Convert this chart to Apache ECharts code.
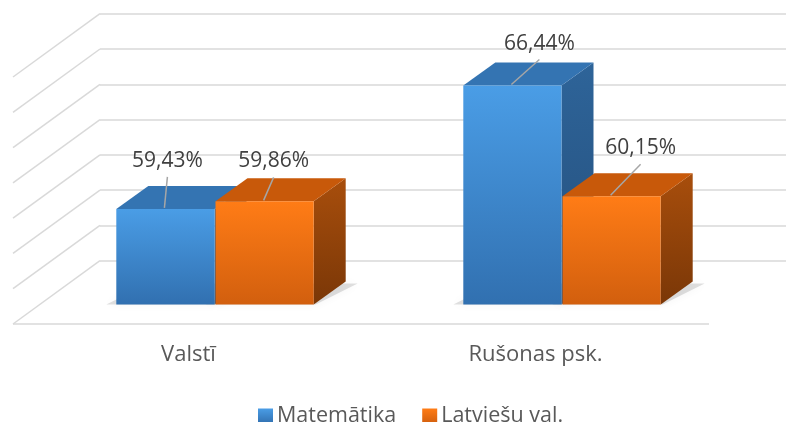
<!DOCTYPE html>
<html>
<head>
<meta charset="utf-8">
<script src="https://cdn.jsdelivr.net/npm/echarts@6/dist/echarts.min.js"></script>
<style>html,body{margin:0;padding:0;background:#fff;}#chart{width:786px;height:422px;}</style>
</head>
<body>
<div id="chart"></div>
<script>
const categories = ['Valstī', 'Rušonas psk.'];
const seriesNames = ['Matemātika', 'Latviešu val.'];
const matematika = [59.43, 66.44];
const latviesu = [59.86, 60.15];
const axisTicks = [54, 56, 58, 60, 62, 64, 66, 68];
const Y_MIN = 54, Y_MAX = 68, Y_STEP = 2;

const FONT = '"Open Sans", "Liberation Sans", sans-serif';
const DX = 32, DY = -23;          // bar depth offset
const WX = -87, WY = 63.3;        // side wall depth offset
const BAR_FRAC = 0.283;
const LABEL_OFF = [[[2, -48], [27, -42]], [[9, -40], [29, -48]]];

const palettes = [
  { front: ['#4A9DE6', '#3170B0'], top: '#3474B2', side: ['#2E6499', '#244F7C'] },
  { front: ['#FF7C16', '#D25F0E'], top: '#C8590A', side: ['#A84E0C', '#7A3707'] }
];

function lg(c0, c1, horiz) {
  return new echarts.graphic.LinearGradient(0, 0, horiz ? 1 : 0, horiz ? 0 : 1, [
    { offset: 0, color: c0 }, { offset: 1, color: c1 }
  ]);
}

function barGeom(api, sIdx) {
  const cat = api.value(0), val = api.value(1);
  const base = api.coord([cat, Y_MIN]);
  const top = api.coord([cat, val]);
  const band = api.size([1, 0])[0];
  const w = band * BAR_FRAC;
  const x0 = sIdx === 0 ? base[0] - w : base[0] + 1;
  return { x0: x0, x1: x0 + w, yt: top[1], yb: base[1], w: w, val: val, cat: cat };
}

function makeBarSeries(sIdx, values) {
  const pal = palettes[sIdx];
  return {
    type: 'custom',
    name: seriesNames[sIdx],
    xAxisIndex: 0, yAxisIndex: 0,
    z: 5,
    itemStyle: { color: pal.front[0] },
    data: values.map((v, i) => [i, v]),
    renderItem: function (params, api) {
      const g = barGeom(api, sIdx);
      const cx = (g.x0 + g.x1) / 2;
      const off = LABEL_OFF[sIdx][g.cat];
      const lx = cx + off[0], ly = g.yt + off[1];
      const txt = g.val.toFixed(2).replace('.', ',') + '%';
      return {
        type: 'group',
        children: [
          { type: 'polygon', z2: 1, shape: { points: [[g.x1, g.yt], [g.x1 + DX, g.yt + DY], [g.x1 + DX, g.yb + DY], [g.x1, g.yb]] },
            style: { fill: lg(pal.side[0], pal.side[1]) } },
          { type: 'polygon', z2: 2, shape: { points: [[g.x0, g.yt], [g.x1, g.yt], [g.x1 + DX, g.yt + DY], [g.x0 + DX, g.yt + DY]] },
            style: { fill: pal.top } },
          { type: 'rect', z2: 3, shape: { x: g.x0, y: g.yt, width: g.w, height: g.yb - g.yt },
            style: { fill: lg(pal.front[0], pal.front[1]) } },
          { type: 'line', z2: 4, shape: { x1: lx, y1: ly + 16, x2: cx - 1, y2: g.yt - 1 },
            style: { stroke: '#A6A6A6', lineWidth: 1.5 } },
          { type: 'text', z2: 5, style: { text: txt, x: lx, y: ly, align: 'center', verticalAlign: 'middle',
            fill: '#404040', font: '21px ' + FONT } }
        ]
      };
    }
  };
}

const shadowData = [];
matematika.forEach((v, i) => shadowData.push([i, v, 0]));
latviesu.forEach((v, i) => shadowData.push([i, v, 1]));

const option = {
  animation: false,
  backgroundColor: '#ffffff',
  grid: [
    { left: 41, right: 51, top: 58.1, bottom: 117.5 },
    { left: 100, right: 0, top: 13.7, bottom: 161.3 }
  ],
  xAxis: [
    { type: 'category', gridIndex: 0, data: categories,
      axisLine: { show: false }, axisTick: { show: false }, splitLine: { show: false },
      axisLabel: { color: '#595959', fontSize: 22, fontFamily: FONT, margin: 39, padding: [0, 52, 0, 0] } },
    { type: 'value', gridIndex: 1, min: 0, max: 1, show: false }
  ],
  yAxis: [
    { type: 'value', gridIndex: 0, min: Y_MIN, max: Y_MAX, interval: Y_STEP, show: false },
    { type: 'value', gridIndex: 1, min: Y_MIN, max: Y_MAX, interval: Y_STEP,
      axisLine: { show: false }, axisTick: { show: false }, axisLabel: { show: false },
      splitLine: { show: true, lineStyle: { color: '#D9D9D9', width: 1.5 } } }
  ],
  legend: {
    data: seriesNames.map((n, i) => ({ name: n, icon: 'rect',
      itemStyle: { color: lg(palettes[i].front[0], palettes[i].front[1]) } })),
    left: 253, top: 400, itemWidth: 15, itemHeight: 15, itemGap: 26,
    textStyle: { color: '#595959', fontSize: 21.5, fontFamily: FONT, padding: [0, 0, 0, -1] }
  },
  series: [
    {
      type: 'custom', name: 'walls', xAxisIndex: 1, yAxisIndex: 1, z: 1, silent: true,
      data: axisTicks.map(v => [0, v]),
      renderItem: function (params, api) {
        const v = api.value(1);
        const p = api.coord([0, v]);
        const children = [{ type: 'line', shape: { x1: p[0], y1: p[1], x2: p[0] + WX, y2: p[1] + WY },
          style: { stroke: '#D9D9D9', lineWidth: 1.5 } }];
        if (v === Y_MIN) {
          const pr = api.coord([1, v]);
          children.push({ type: 'line', shape: { x1: p[0] + WX, y1: p[1] + WY, x2: pr[0] - 77, y2: p[1] + WY },
            style: { stroke: '#D9D9D9', lineWidth: 1.5 } });
        }
        return { type: 'group', children: children };
      }
    },
    {
      type: 'custom', name: 'shadow', xAxisIndex: 0, yAxisIndex: 0, z: 2, silent: true,
      data: shadowData,
      renderItem: function (params, api) {
        const g = barGeom(api, api.value(2));
        return { type: 'polygon', shape: { points: [[g.x0 - 10, g.yb], [g.x1 + 2, g.yb], [g.x1 + DX + 12, g.yb + DY + 2], [g.x0 + DX, g.yb + DY + 2]] },
          style: { fill: 'rgba(0,0,0,0.12)', shadowBlur: 10, shadowColor: 'rgba(0,0,0,0.35)' } };
      }
    },
    makeBarSeries(0, matematika),
    makeBarSeries(1, latviesu)
  ]
};

const chart = echarts.init(document.getElementById('chart'), null, { renderer: 'canvas' });
chart.setOption(option);
</script>
</body>
</html>
